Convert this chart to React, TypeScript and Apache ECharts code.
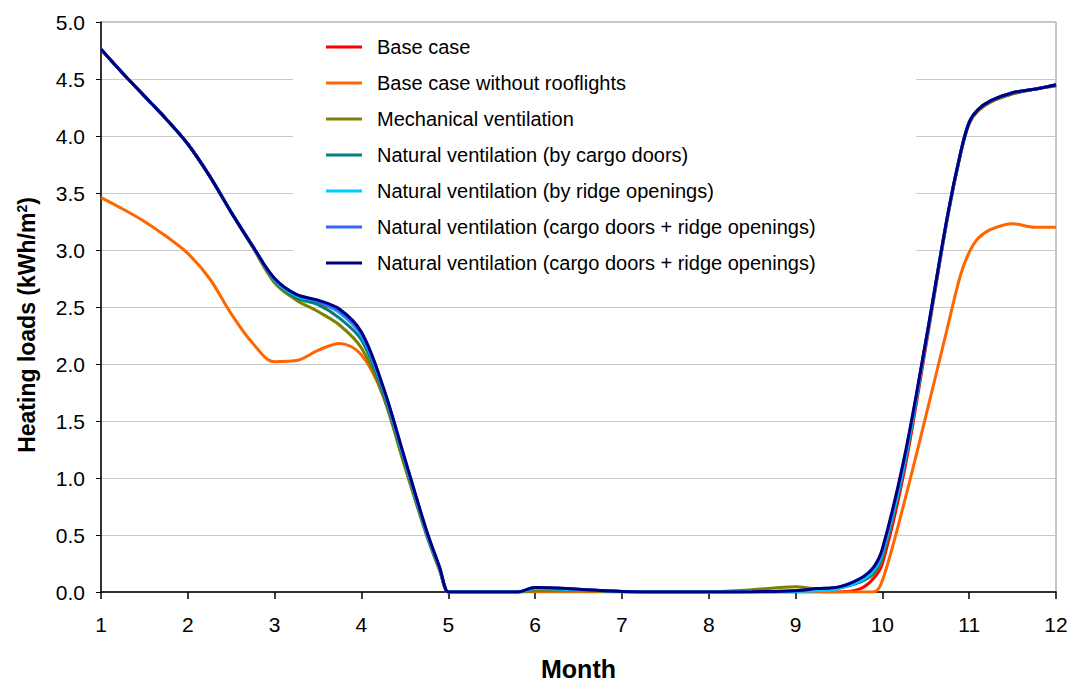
import React, { useEffect, useRef } from "react";
import * as echarts from "echarts";

const months = [1, 1.25, 1.5, 1.75, 2, 2.25, 2.5, 2.75, 3, 3.25, 3.5, 3.75, 4, 4.25, 4.5, 4.75, 4.9, 5, 5.05, 5.5, 5.8, 6, 6.5, 7, 7.5, 8, 8.5, 9, 9.25, 9.5, 9.75, 9.9, 10, 10.25, 10.5, 10.75, 10.9, 11, 11.1, 11.25, 11.5, 11.75, 12];

const baseCase = [4.76, 4.55, 4.35, 4.15, 3.93, 3.65, 3.33, 3.03, 2.74, 2.6, 2.54, 2.45, 2.25, 1.78, 1.15, 0.52, 0.2, 0, 0, 0, 0, 0.03, 0.02, 0.004, 0, 0, 0, 0, 0, 0, 0.03, 0.12, 0.25, 1.05, 2.15, 3.28, 3.84, 4.11, 4.22, 4.3, 4.37, 4.41, 4.44];
const noRooflights = [3.46, 3.36, 3.25, 3.12, 2.97, 2.75, 2.44, 2.18, 2.02, 2.03, 2.12, 2.18, 2.08, 1.72, 1.1, 0.5, 0.19, 0, 0, 0, 0, 0, 0, 0, 0, 0, 0, 0, 0, 0, 0, 0, 0.1, 0.78, 1.54, 2.32, 2.78, 2.98, 3.1, 3.18, 3.23, 3.2, 3.2];
const mechanical = [4.76, 4.55, 4.35, 4.15, 3.93, 3.65, 3.33, 3.02, 2.71, 2.56, 2.46, 2.34, 2.14, 1.72, 1.1, 0.5, 0.19, 0, 0, 0, 0, 0.01, 0.01, 0.003, 0, 0, 0.02, 0.045, 0.03, 0.04, 0.09, 0.16, 0.3, 1.1, 2.18, 3.28, 3.84, 4.11, 4.22, 4.3, 4.37, 4.41, 4.44];
const cargoDoors = [4.76, 4.55, 4.35, 4.15, 3.93, 3.65, 3.33, 3.03, 2.73, 2.58, 2.52, 2.4, 2.21, 1.75, 1.13, 0.51, 0.2, 0, 0, 0, 0, 0.03, 0.02, 0.004, 0, 0, 0, 0.01, 0.02, 0.035, 0.09, 0.17, 0.32, 1.1, 2.18, 3.29, 3.85, 4.12, 4.23, 4.31, 4.38, 4.41, 4.45];
const ridgeOpenings = [4.76, 4.55, 4.35, 4.15, 3.93, 3.65, 3.33, 3.03, 2.74, 2.6, 2.55, 2.45, 2.25, 1.78, 1.15, 0.52, 0.21, 0, 0, 0, 0, 0.03, 0.02, 0.004, 0, 0, 0, 0.005, 0.01, 0.03, 0.1, 0.19, 0.34, 1.12, 2.19, 3.29, 3.85, 4.12, 4.23, 4.31, 4.38, 4.41, 4.45];
const combinedA = [4.76, 4.55, 4.35, 4.15, 3.93, 3.65, 3.33, 3.03, 2.75, 2.61, 2.55, 2.46, 2.26, 1.79, 1.16, 0.53, 0.21, 0, 0, 0, 0, 0.04, 0.025, 0.005, 0, 0, 0.003, 0.012, 0.03, 0.045, 0.12, 0.21, 0.36, 1.15, 2.2, 3.3, 3.85, 4.12, 4.23, 4.31, 4.38, 4.41, 4.45];
const combinedB = [4.76, 4.55, 4.35, 4.15, 3.93, 3.65, 3.33, 3.03, 2.75, 2.61, 2.56, 2.48, 2.28, 1.8, 1.17, 0.54, 0.22, 0, 0, 0, 0, 0.04, 0.025, 0.005, 0, 0, 0.003, 0.012, 0.03, 0.045, 0.12, 0.22, 0.38, 1.17, 2.2, 3.3, 3.85, 4.12, 4.23, 4.31, 4.38, 4.41, 4.45];

const seriesNames = [
  "Base case",
  "Base case without rooflights",
  "Mechanical ventilation",
  "Natural ventilation (by cargo doors)",
  "Natural ventilation (by ridge openings)",
  "Natural ventilation (cargo doors + ridge openings)",
  "Natural ventilation (cargo doors + ridge openings) ",
];
const seriesValues = [baseCase, noRooflights, mechanical, cargoDoors, ridgeOpenings, combinedA, combinedB];
const seriesColors = ["#ff0000", "#ff6600", "#808000", "#008080", "#00ccff", "#3366ff", "#000080"];

const yTicks = [0, 0.5, 1, 1.5, 2, 2.5, 3, 3.5, 4, 4.5, 5];
const xTicks = [1, 2, 3, 4, 5, 6, 7, 8, 9, 10, 11, 12];

const FONT = "'Liberation Sans', Arial, sans-serif";

export default function App() {
  const ref = useRef<HTMLDivElement>(null);
  useEffect(() => {
    if (!ref.current) return;
    const chart = echarts.init(ref.current, null, { renderer: "svg" });
    chart.setOption({
      animation: false,
      backgroundColor: "#ffffff",
      grid: {
        left: 101,
        right: 17,
        top: 22,
        bottom: 90,
        show: true,
        borderColor: "#8c8c8c",
        borderWidth: 1,
        backgroundColor: "transparent",
        containLabel: false,
        outerBoundsMode: "none",
      },
      legend: {
        orient: "vertical",
        left: 293,
        top: 30,
        padding: [7, 95, 10, 33],
        backgroundColor: "#ffffff",
        itemWidth: 36,
        itemHeight: 3,
        itemGap: 16,
        icon: "rect",
        data: seriesNames,
        textStyle: {
          fontFamily: FONT,
          fontSize: 20,
          lineHeight: 20,
          color: "#000",
          padding: [0, 0, 0, 10],
        },
      },
      xAxis: {
        type: "value",
        min: xTicks[0],
        max: xTicks[xTicks.length - 1],
        interval: 1,
        name: "Month",
        nameLocation: "middle",
        nameGap: 64,
        nameTextStyle: { fontFamily: FONT, fontSize: 25, fontWeight: "bold", color: "#000" },
        axisLine: { show: true, onZero: false, lineStyle: { color: "#000", width: 1.5 } },
        axisTick: { show: true, length: 7, lineStyle: { color: "#000", width: 1.5 } },
        axisLabel: { fontFamily: FONT, fontSize: 21, color: "#000", margin: 22 },
        splitLine: { show: false },
      },
      yAxis: {
        type: "value",
        min: yTicks[0],
        max: yTicks[yTicks.length - 1],
        interval: 0.5,
        name: "Heating loads (kWh/m{sup|2})",
        nameLocation: "middle",
        nameGap: 62,
        nameTextStyle: {
          fontFamily: FONT,
          fontSize: 23,
          fontWeight: "bold",
          color: "#000",
          padding: [0, 36, 0, 0],
          rich: {
            sup: { fontFamily: FONT, fontSize: 14, fontWeight: "bold", color: "#000", verticalAlign: "top", padding: [0, 0, 10, 0] },
          },
        },
        axisLine: { show: true, lineStyle: { color: "#000", width: 1.5 } },
        axisTick: { show: true, length: 5, lineStyle: { color: "#000", width: 1 } },
        axisLabel: { fontFamily: FONT, fontSize: 21, color: "#000", margin: 16, formatter: (v: number) => v.toFixed(1) },
        splitLine: { show: true, lineStyle: { color: "#c8c8c8", width: 1 } },
      },
      series: seriesNames.map((name, k) => ({
        name,
        type: "line",
        data: months.map((m, i) => [m, seriesValues[k][i]]),
        smooth: 0.35,
        showSymbol: false,
        symbol: "none",
        clip: true,
        lineStyle: { width: 3, color: seriesColors[k] },
        itemStyle: { color: seriesColors[k] },
        z: 2 + k,
      })),
    });
    return () => chart.dispose();
  }, []);
  return <div ref={ref} style={{ width: 1073, height: 682, position: "absolute", left: 0, top: 0 }} />;
}
